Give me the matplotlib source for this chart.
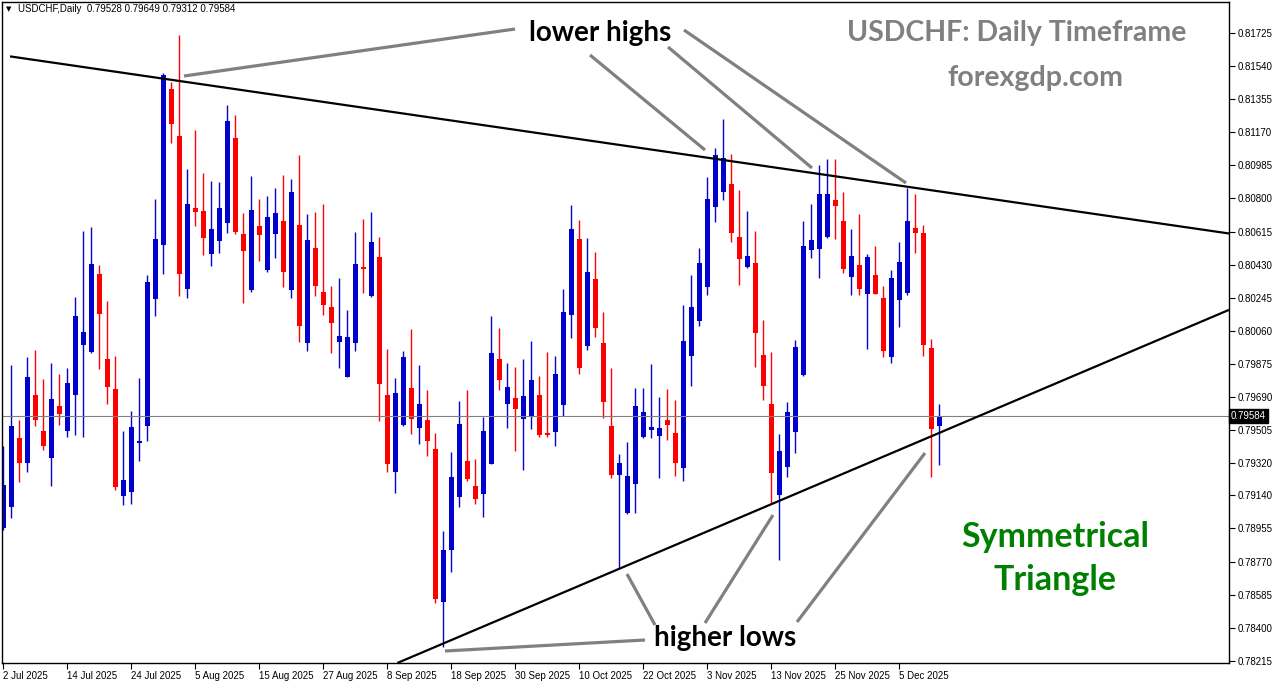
import matplotlib
matplotlib.use("Agg")
import matplotlib.pyplot as plt
import pandas as pd

# USDCHF daily candles, 2 Jul 2025 .. 12 Dec 2025
opens = [0.78957, 0.79075, 0.79460, 0.79321, 0.79701, 0.79499, 0.79348, 0.79639, 0.79499, 0.79701,
         0.79980, 0.79941, 0.80378, 0.79902, 0.79735, 0.79136, 0.79159, 0.79432, 0.79527, 0.80238,
         0.80539, 0.81412, 0.81148, 0.80294, 0.80746, 0.80729, 0.80489, 0.80561, 0.80662, 0.81137,
         0.80601, 0.80288, 0.80645, 0.80400, 0.80601, 0.80673, 0.80288, 0.80651, 0.79991, 0.80522,
         0.80277, 0.80193, 0.79997, 0.79802, 0.79991, 0.80417, 0.80254, 0.80472, 0.79701, 0.79271,
         0.79533, 0.79740, 0.79516, 0.79561, 0.79399, 0.78544, 0.78834, 0.79131, 0.79332, 0.79192,
         0.79148, 0.79316, 0.79902, 0.79651, 0.79684, 0.79567, 0.79583, 0.79701, 0.79488, 0.79494,
         0.79645, 0.80148, 0.80573, 0.79974, 0.80350, 0.79991, 0.79527, 0.79254, 0.79041, 0.79204,
         0.79466, 0.79505, 0.79471, 0.79561, 0.79488, 0.79293, 0.79918, 0.80114, 0.80305, 0.80752,
         0.80836, 0.80881, 0.80584, 0.80417, 0.80439, 0.79924, 0.79651, 0.79142, 0.79299, 0.79494,
         0.79813, 0.80511, 0.80517, 0.80584, 0.80791, 0.80673, 0.80361, 0.80428, 0.80266, 0.80372,
         0.80243, 0.79913, 0.80232, 0.80271, 0.80634, 0.80606, 0.79963, 0.79528]
highs = [0.79415, 0.79869, 0.79561, 0.79913, 0.79952, 0.79791, 0.79880, 0.79819, 0.79852, 0.80249,
         0.80617, 0.80640, 0.80428, 0.80226, 0.79918, 0.79499, 0.79611, 0.79796, 0.80372, 0.80797,
         0.81501, 0.81451, 0.81713, 0.80965, 0.81182, 0.80942, 0.80897, 0.80892, 0.81322, 0.81266,
         0.80718, 0.80925, 0.80797, 0.80813, 0.80858, 0.80931, 0.80909, 0.81042, 0.80713, 0.80724,
         0.80769, 0.80310, 0.80355, 0.80176, 0.80612, 0.80685, 0.80724, 0.80584, 0.79958, 0.79796,
         0.79946, 0.80070, 0.79869, 0.79729, 0.79488, 0.78940, 0.79382, 0.79667, 0.79729, 0.79343,
         0.79578, 0.80142, 0.80075, 0.79880, 0.79858, 0.79902, 0.80002, 0.79807, 0.79941, 0.79918,
         0.80294, 0.80763, 0.80679, 0.80578, 0.80500, 0.80165, 0.79852, 0.79371, 0.79438, 0.79740,
         0.79740, 0.79875, 0.79690, 0.79735, 0.79673, 0.80204, 0.80372, 0.80522, 0.80920, 0.81081,
         0.81244, 0.81048, 0.80847, 0.80729, 0.80617, 0.80120, 0.79941, 0.79483, 0.79662, 0.80008,
         0.80673, 0.80769, 0.80987, 0.81020, 0.81020, 0.80836, 0.80629, 0.80713, 0.80489, 0.80533,
         0.80310, 0.80400, 0.80556, 0.80858, 0.80825, 0.80651, 0.80014, 0.79649]
lows = [0.78946, 0.79013, 0.79215, 0.79271, 0.79527, 0.79393, 0.79192, 0.79533, 0.79466, 0.79477,
        0.79466, 0.79935, 0.79847, 0.79651, 0.79170, 0.79086, 0.79092, 0.79332, 0.79443, 0.80142,
        0.80378, 0.81109, 0.80254, 0.80243, 0.80645, 0.80483, 0.80422, 0.80494, 0.80606, 0.80601,
        0.80215, 0.80277, 0.80450, 0.80389, 0.80466, 0.80305, 0.80243, 0.79997, 0.79946, 0.80254,
        0.80148, 0.79935, 0.79852, 0.79800, 0.79946, 0.80271, 0.80249, 0.79555, 0.79271, 0.79153,
        0.79530, 0.79483, 0.79427, 0.79359, 0.78538, 0.78292, 0.78712, 0.79075, 0.79220, 0.79092,
        0.79019, 0.79313, 0.79729, 0.79516, 0.79387, 0.79282, 0.79511, 0.79466, 0.79466, 0.79415,
        0.79583, 0.80019, 0.79819, 0.79952, 0.80025, 0.79572, 0.79237, 0.78734, 0.79038, 0.79041,
        0.79463, 0.79460, 0.79237, 0.79449, 0.79248, 0.79220, 0.79751, 0.80086, 0.80260, 0.80668,
        0.80791, 0.80556, 0.80316, 0.80411, 0.79858, 0.79673, 0.79092, 0.78779, 0.79243, 0.79376,
        0.79810, 0.80466, 0.80355, 0.80580, 0.80573, 0.80383, 0.80260, 0.80260, 0.79958, 0.80263,
        0.79913, 0.79880, 0.80081, 0.80260, 0.80494, 0.79918, 0.79243, 0.79312]
closes = [0.79198, 0.79527, 0.79321, 0.79802, 0.79561, 0.79415, 0.79679, 0.79595, 0.79768, 0.80142,
          0.80053, 0.80434, 0.80154, 0.79746, 0.79187, 0.79226, 0.79522, 0.79443, 0.80333, 0.80573,
          0.81490, 0.81216, 0.80378, 0.80769, 0.80724, 0.80578, 0.80629, 0.80746, 0.81232, 0.80612,
          0.80505, 0.80735, 0.80595, 0.80696, 0.80718, 0.80389, 0.80836, 0.80086, 0.80567, 0.80310,
          0.80204, 0.80103, 0.80030, 0.80025, 0.80434, 0.80406, 0.80556, 0.79763, 0.79316, 0.79712,
          0.79913, 0.79567, 0.79651, 0.79443, 0.78561, 0.78834, 0.79243, 0.79539, 0.79232, 0.79120,
          0.79499, 0.79935, 0.79785, 0.79746, 0.79623, 0.79695, 0.79785, 0.79477, 0.79477, 0.79819,
          0.80165, 0.80629, 0.79852, 0.80389, 0.80075, 0.79662, 0.79254, 0.79321, 0.79248, 0.79639,
          0.79606, 0.79522, 0.79516, 0.79533, 0.79321, 0.80002, 0.80193, 0.80439, 0.80797, 0.81042,
          0.81025, 0.80606, 0.80461, 0.80477, 0.80047, 0.79751, 0.79265, 0.79387, 0.79606, 0.79969,
          0.80533, 0.80567, 0.80825, 0.80825, 0.80757, 0.80406, 0.80477, 0.80294, 0.80472, 0.80266,
          0.79946, 0.80355, 0.80445, 0.80673, 0.80606, 0.79980, 0.79511, 0.79584]

dates = pd.bdate_range("2025-07-02", periods=len(opens))
price_ticks = [0.81725, 0.81540, 0.81355, 0.81170, 0.80985, 0.80800, 0.80615, 0.80430, 0.80245, 0.80060,
               0.79875, 0.79690, 0.79505, 0.79320, 0.79140, 0.78955, 0.78770, 0.78585, 0.78400, 0.78215]
last_price = 0.79584

# trendlines (bar index, price)
upper_x = [0.84, 153.2]
upper_y = [0.81594, 0.80604]
lower_x = [49.25, 153.2]
lower_y = [0.78203, 0.80177]

W, H = 1276, 684
fig = plt.figure(figsize=(W / 100, H / 100), dpi=100)
ax = fig.add_axes([2 / W, 21 / H, 1227 / W, 661 / H])

xs = list(range(len(opens)))
cols = ['#0000CD' if c >= o else '#FF0000' for o, c in zip(opens, closes)]
ax.vlines(xs, lows, highs, colors=cols, linewidth=1.0)
bodies = [max(abs(c - o), 0.00004) for o, c in zip(opens, closes)]
bottoms = [min(o, c) for o, c in zip(opens, closes)]
ax.bar(xs, bodies, bottom=bottoms, width=0.625, color=cols, linewidth=0)

ax.axhline(last_price, color='#808080', linewidth=0.8)
ax.plot(upper_x, upper_y, color='black', linewidth=1.6, solid_capstyle='butt')
ax.plot(lower_x, lower_y, color='black', linewidth=1.6, solid_capstyle='butt')

ax.set_xlim(-0.16, 153.2)
ax.set_ylim(0.78203, 0.81898)

tickfont = 'Liberation Sans'
ax.set_xticks(xs[::8])
ax.set_xticklabels([f"{d.day} {d.strftime('%b %Y')}" for d in dates[::8]], ha='left',
                   family=tickfont, fontsize=7)
ax.yaxis.tick_right()
ax.set_yticks(price_ticks)
ax.set_yticklabels([f"{p:.5f}" for p in price_ticks], family=tickfont, fontsize=7)
ax.tick_params(axis='both', length=4, width=0.8, colors='black')
ax.tick_params(axis='x', pad=1.5)
ax.tick_params(axis='y', pad=2.5)
for s in ax.spines.values():
    s.set_linewidth(1.0)

ax.text(1.0016, last_price, "0.79584", transform=ax.get_yaxis_transform(), fontsize=7,
        family=tickfont, color='white', va='center', ha='left',
        bbox=dict(boxstyle='square,pad=0.25', facecolor='black', edgecolor='black'))

fig.text(6 / W, 1 - 9 / H, "\u25bc", fontsize=5, va='center', ha='left', color='black')
fig.text(18 / W, 1 - 9 / H, "USDCHF,Daily  0.79528 0.79649 0.79312 0.79584", fontsize=7,
         family=tickfont, va='center', ha='left', color='black')


def px(x, y):
    return (x / W, 1 - y / H)


gray = '#808080'
pointers = [((184, 76), (515, 29)), ((590, 55), (705, 150)), ((668, 47), (812, 168)),
            ((684, 30), (906, 183)), ((445, 651), (645, 640)), ((627, 574), (655, 625)),
            ((773, 515), (705, 623)), ((925, 453), (797, 622))]
for a, b in pointers:
    fig.add_artist(plt.Line2D([px(*a)[0], px(*b)[0]], [px(*a)[1], px(*b)[1]],
                              color=gray, linewidth=2.3, solid_capstyle='butt'))

font = 'Lato'
fig.text(*px(600, 33), "lower highs", fontsize=20, fontweight='bold', family=font,
         ha='center', va='center', color='black')
fig.text(*px(725, 638), "higher lows", fontsize=20, fontweight='bold', family=font,
         ha='center', va='center', color='black')
fig.text(*px(1017, 33), "USDCHF: Daily Timeframe", fontsize=20.5, fontweight='bold', family=font,
         ha='center', va='center', color=gray)
fig.text(*px(1035, 78), "forexgdp.com", fontsize=20.5, fontweight='bold', family=font,
         ha='center', va='center', color=gray)
fig.text(*px(1055, 537), "Symmetrical", fontsize=24.5, fontweight='bold', family=font,
         ha='center', va='center', color='#008000')
fig.text(*px(1055, 580), "Triangle", fontsize=24.5, fontweight='bold', family=font,
         ha='center', va='center', color='#008000')

fig.savefig("out.png", dpi=100)
